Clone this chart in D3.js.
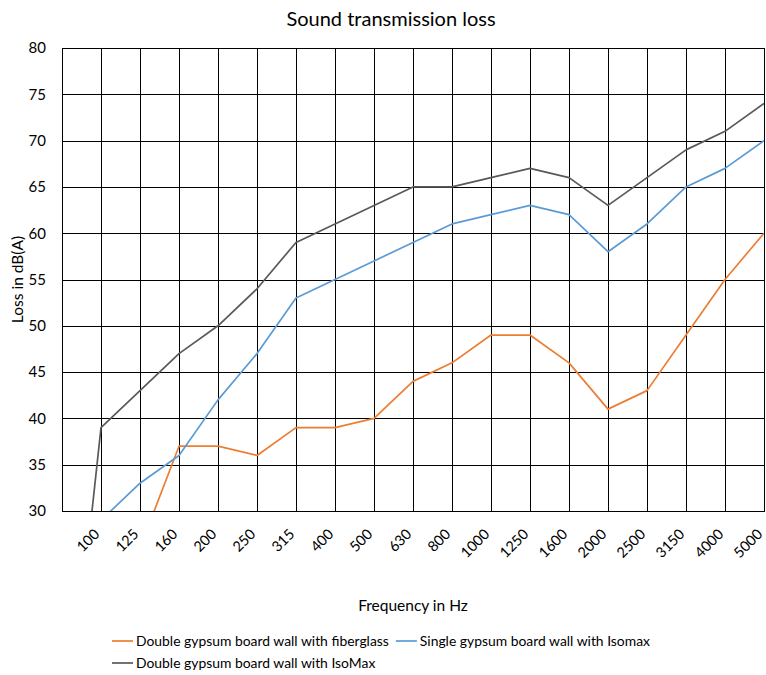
<!DOCTYPE html>
<html>
<head>
<meta charset="utf-8">
<script src="https://cdn.jsdelivr.net/npm/d3@7"></script>
<style>
  body { margin: 0; background: #fff; }
  text { font-family: Lato, "Noto Sans", sans-serif; fill: #000; }
</style>
</head>
<body>
<svg id="chart" width="766" height="675"></svg>
<script>
// first slot has no label (empty cells, plotted as zero)
const frequencies = ['', '100', '125', '160', '200', '250', '315', '400', '500', '630',
  '800', '1000', '1250', '1600', '2000', '2500', '3150', '4000', '5000'];
const fiberglass = [0, 24, 26, 37, 37, 36, 39, 39, 40, 44, 46, 49, 49, 46, 41, 43, 49, 55, 60];
const singleIsomax = [0, 29, 33, 36, 42, 47, 53, 55, 57, 59, 61, 62, 63, 62, 58, 61, 65, 67, 70];
const doubleIsomax = [0, 39, 43, 47, 50, 54, 59, 61, 63, 65, 65, 66, 67, 66, 63, 66, 69, 71, 74];
const yTicks = [30, 35, 40, 45, 50, 55, 60, 65, 70, 75, 80];

const series = [
  { name: 'Double gypsum board wall with fiberglass', values: fiberglass, color: '#ED7D31' },
  { name: 'Single gypsum board wall with Isomax', values: singleIsomax, color: '#5B9BD5' },
  { name: 'Double gypsum board wall with IsoMax', values: doubleIsomax, color: '#595959' },
];

const plotLeft = 62, plotRight = 764, plotTop = 48, plotBottom = 511;

const svg = d3.select('#chart');

const x = d3.scalePoint().domain(frequencies).range([plotLeft, plotRight]);
const y = d3.scaleLinear().domain([30, 80]).range([plotBottom, plotTop]);

// horizontal grid + y labels
const yAxis = svg.append('g')
  .attr('transform', `translate(${plotLeft},0)`)
  .call(d3.axisLeft(y).tickValues(yTicks).tickSize(-(plotRight - plotLeft)).tickPadding(16));
yAxis.select('.domain').remove();
yAxis.selectAll('line').attr('stroke', '#000').attr('shape-rendering', 'crispEdges');
yAxis.selectAll('text').attr('font-size', 15);

// vertical grid + x labels
const xAxis = svg.append('g')
  .attr('transform', `translate(0,${plotBottom})`)
  .call(d3.axisBottom(x).tickSize(-(plotBottom - plotTop)));
xAxis.select('.domain').remove();
xAxis.selectAll('line').attr('stroke', '#000').attr('shape-rendering', 'crispEdges');
xAxis.selectAll('text')
  .attr('font-size', 14.5)
  .attr('text-anchor', 'end')
  .attr('transform', 'translate(-1,24) rotate(-45)')
  .attr('x', 0).attr('y', 0).attr('dy', 0);

svg.append('rect')
  .attr('x', plotLeft).attr('y', plotTop)
  .attr('width', plotRight - plotLeft).attr('height', plotBottom - plotTop)
  .attr('fill', 'none').attr('stroke', '#000')
  .attr('shape-rendering', 'crispEdges');

svg.append('clipPath').attr('id', 'plot')
  .append('rect')
  .attr('x', plotLeft).attr('y', plotTop)
  .attr('width', plotRight - plotLeft).attr('height', plotBottom - plotTop);

const line = d3.line()
  .x((d, i) => x(frequencies[i]))
  .y((d) => y(d));

svg.append('g')
  .attr('clip-path', 'url(#plot)')
  .selectAll('path')
  .data(series)
  .enter()
  .append('path')
  .attr('d', (d) => line(d.values))
  .attr('fill', 'none')
  .attr('stroke', (d) => d.color)
  .attr('stroke-width', 1.7)
  .attr('stroke-linejoin', 'round');

svg.append('text')
  .attr('x', 391).attr('y', 26)
  .attr('text-anchor', 'middle')
  .attr('font-size', 20)
  .text('Sound transmission loss');

svg.append('text')
  .attr('x', 413).attr('y', 611)
  .attr('text-anchor', 'middle')
  .attr('font-size', 15.5)
  .text('Frequency in Hz');

svg.append('text')
  .attr('transform', `translate(23,${(plotTop + plotBottom) / 2}) rotate(-90)`)
  .attr('text-anchor', 'middle')
  .attr('font-size', 15.5)
  .text('Loss in dB(A)');

// legend: two items on the first row, one on the second
const rows = [[series[0], series[1]], [series[2]]];
rows.forEach((row, r) => {
  let cx = 112;
  const cy = 641 + r * 22;
  row.forEach((s) => {
    svg.append('line')
      .attr('x1', cx).attr('x2', cx + 21)
      .attr('y1', cy).attr('y2', cy)
      .attr('stroke', s.color).attr('stroke-width', 1.7);
    const t = svg.append('text')
      .attr('x', cx + 24).attr('y', cy)
      .attr('dy', '0.35em')
      .attr('font-size', 13.9)
      .text(s.name);
    cx += 24 + t.node().getComputedTextLength() + 7;
  });
});
</script>
</body>
</html>
